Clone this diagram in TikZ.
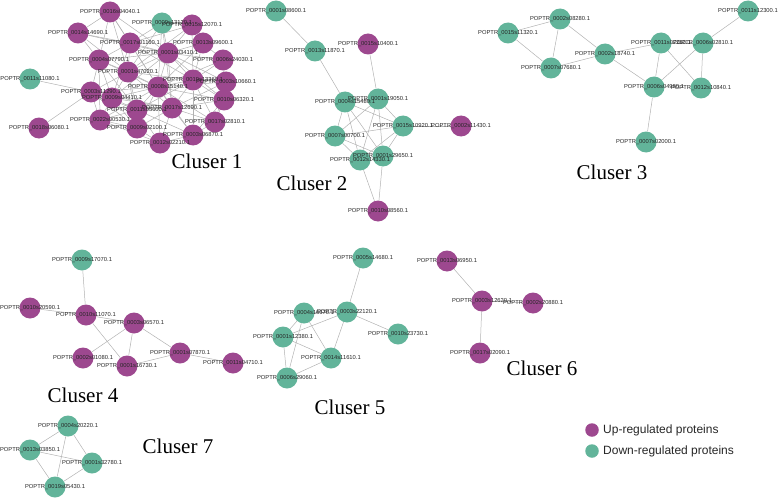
\documentclass[tikz,border=0pt]{standalone}
\usepackage{fontspec}
\setmainfont{Liberation Sans}
\newfontfamily\ttlfont{Liberation Serif}
\definecolor{upc}{RGB}{157,72,143}
\definecolor{downc}{RGB}{98,180,154}
\definecolor{edgec}{RGB}{178,178,178}
\pgfdeclarelayer{edgelayer}
\pgfdeclarelayer{labellayer}
\pgfsetlayers{edgelayer,main,labellayer}
\tikzset{
  up/.style={circle, fill=upc, minimum size=21pt, inner sep=0pt},
  down/.style={circle, fill=downc, minimum size=21pt, inner sep=0pt},
  lab/.style={font=\fontsize{5.8}{6}\selectfont, inner sep=0pt, text=black!85},
  edge/.style={draw=edgec, line width=0.5pt},
  ttl/.style={font=\ttlfont\fontsize{21}{24}\selectfont, inner sep=0pt},
  legdot/.style={circle, minimum size=13.5pt, inner sep=0pt},
  legtxt/.style={anchor=west, font=\fontsize{12}{14}\selectfont, inner sep=0pt, text=black!85}
}
\newcommand\PN[5]{%
  \node[#4] (#1) at (#2,#3) {};
  \begin{pgfonlayer}{labellayer}\node[lab] (#1l) at (#1) {#5};\end{pgfonlayer}}
\begin{document}
\begin{tikzpicture}[x=1pt,y=-1pt]
\useasboundingbox (0,0) rectangle (778,500);
% ---------- Cluster 1
\PN{p1}{110}{12}{up}{POPTR\_0016s04040.1}
\PN{p2}{162}{23}{down}{POPTR\_0009s13120.1}
\PN{p3}{192}{25}{up}{POPTR\_0015s12070.1}
\PN{p4}{78}{33}{up}{POPTR\_0014s14690.1}
\PN{p5}{130}{43}{up}{POPTR\_0017s01160.1}
\PN{p6}{203}{43}{up}{POPTR\_0013s09600.1}
\PN{p7}{168}{53}{up}{POPTR\_0001s03410.1}
\PN{p8}{99}{60}{up}{POPTR\_0004s07790.1}
\PN{p9}{223}{60}{up}{POPTR\_0006s24030.1}
\PN{p10}{128}{72}{up}{POPTR\_0001s47020.1}
\PN{p11}{193}{80}{up}{POPTR\_0019s13360.1}
\PN{p12}{226}{82}{up}{POPTR\_0003s10660.1}
\PN{p13}{30}{79}{down}{POPTR\_0011s11080.1}
\PN{p14}{91}{92}{up}{POPTR\_0003s11290.1}
\PN{p15}{158}{87}{up}{POPTR\_0008s15140.1}
\PN{p16}{112}{98}{up}{POPTR\_0009s04410.1}
\PN{p17}{224}{100}{up}{POPTR\_0010s06320.1}
\PN{p18}{137}{110}{up}{POPTR\_0011s05600.1}
\PN{p19}{172}{108}{up}{POPTR\_0017s12690.1}
\PN{p20}{100}{120}{up}{POPTR\_0022s00530.1}
\PN{p21}{215}{122}{up}{POPTR\_0017s02810.1}
\PN{p22}{137}{128}{up}{POPTR\_0009s02100.1}
\PN{p23}{193}{135}{up}{POPTR\_0003s06870.1}
\PN{p24}{160}{143}{up}{POPTR\_0012s02210.1}
\PN{p25}{39}{128}{up}{POPTR\_0018s06080.1}
% ---------- Cluster 2
\PN{q1}{276}{11}{down}{POPTR\_0001s08600.1}
\PN{q2}{315}{51}{down}{POPTR\_0013s11870.1}
\PN{q3}{368}{44}{up}{POPTR\_0015s10400.1}
\PN{q4}{345}{102}{down}{POPTR\_0004s15480.1}
\PN{q5}{378}{99}{down}{POPTR\_0001s19050.1}
\PN{q6}{403}{126}{down}{POPTR\_0015s10920.1}
\PN{q7}{461}{126}{up}{POPTR\_0002s11430.1}
\PN{q8}{335}{136}{down}{POPTR\_0007s00700.1}
\PN{q9}{360}{160}{down}{POPTR\_0012s14330.1}
\PN{q10}{383}{156}{down}{POPTR\_0001s29650.1}
\PN{q11}{378}{211}{up}{POPTR\_0010s08560.1}
% ---------- Cluster 3
\PN{r1}{560}{19}{down}{POPTR\_0002s08280.1}
\PN{r2}{508}{33}{down}{POPTR\_0015s11320.1}
\PN{r3}{551}{68}{down}{POPTR\_0007s07680.1}
\PN{r4}{605}{54}{down}{POPTR\_0002s18740.1}
\PN{r5}{661}{43}{down}{POPTR\_0011s07260.1}
\PN{r6}{703}{43}{down}{POPTR\_0006s02810.1}
\PN{r7}{748}{11}{down}{POPTR\_0011s12300.1}
\PN{r8}{654}{87}{down}{POPTR\_0006s04980.1}
\PN{r9}{701}{88}{down}{POPTR\_0012s10840.1}
\PN{r10}{646}{142}{down}{POPTR\_0007s02000.1}
% ---------- Cluster 4
\PN{s1}{82}{260}{down}{POPTR\_0009s17070.1}
\PN{s2}{30}{308}{up}{POPTR\_0010s20590.1}
\PN{s3}{86}{315}{up}{POPTR\_0010s11070.1}
\PN{s4}{134}{323}{up}{POPTR\_0003s06570.1}
\PN{s5}{83}{358}{up}{POPTR\_0002s01080.1}
\PN{s6}{127}{366}{up}{POPTR\_0001s16730.1}
\PN{s7}{180}{353}{up}{POPTR\_0001s07870.1}
\PN{s8}{233}{363}{up}{POPTR\_0011s04710.1}
% ---------- Cluster 5
\PN{t1}{363}{258}{down}{POPTR\_0005s14680.1}
\PN{t2}{304}{313}{down}{POPTR\_0004s16670.1}
\PN{t3}{347}{312}{down}{POPTR\_0003s22120.1}
\PN{t4}{398}{334}{down}{POPTR\_0010s23730.1}
\PN{t5}{283}{337}{down}{POPTR\_0001s12380.1}
\PN{t6}{331}{358}{down}{POPTR\_0014s11610.1}
\PN{t7}{287}{378}{down}{POPTR\_0006s29060.1}
% ---------- Cluster 6
\PN{u1}{447}{261}{up}{POPTR\_0013s06950.1}
\PN{u2}{482}{301}{up}{POPTR\_0003s12620.1}
\PN{u3}{533}{303}{up}{POPTR\_0002s20880.1}
\PN{u4}{480}{353}{up}{POPTR\_0017s02090.1}
% ---------- Cluster 7
\PN{v1}{68}{426}{down}{POPTR\_0004s20220.1}
\PN{v2}{30}{450}{down}{POPTR\_0013s03850.1}
\PN{v3}{92}{463}{down}{POPTR\_0001s32780.1}
\PN{v4}{55}{487}{down}{POPTR\_0019s05430.1}
% ---------- Edges
\begin{pgfonlayer}{edgelayer}
\foreach \a/\b in {p1/p4,p1/p5,p1/p7,p1/p8,p1/p10,p1/p15,
  p2/p5,p2/p7,p2/p10,p2/p15,p2/p19,
  p3/p7,p3/p5,p3/p10,p3/p11,
  p4/p7,p4/p8,p4/p10,p4/p5,
  p5/p7,p5/p8,p5/p10,p5/p15,p5/p11,p5/p16,
  p6/p7,p6/p11,p6/p15,p6/p9,
  p7/p8,p7/p10,p7/p11,p7/p15,p7/p12,p7/p9,p7/p19,p7/p16,p7/p17,
  p8/p10,p8/p14,p8/p15,p8/p16,p8/p18,p8/p20,
  p9/p11,p9/p15,p9/p12,p9/p17,
  p10/p14,p10/p15,p10/p16,p10/p18,p10/p19,p10/p11,p10/p22,
  p11/p12,p11/p15,p11/p17,p11/p19,p11/p21,p11/p18,p11/p23,
  p12/p15,p12/p17,p12/p19,p12/p21,
  p13/p14,
  p14/p15,p14/p16,p14/p18,p14/p20,p14/p22,p14/p19,p14/p25,
  p15/p16,p15/p17,p15/p18,p15/p19,p15/p21,p15/p22,p15/p23,p15/p24,p15/p20,
  p16/p18,p16/p19,p16/p20,p16/p22,
  p17/p19,p17/p21,p17/p23,
  p18/p19,p18/p20,p18/p22,p18/p24,p18/p23,
  p19/p21,p19/p22,p19/p23,p19/p24,
  p20/p22,p20/p24,p21/p23,p22/p24,p23/p24,
  q1/q2,q2/q4,q3/q5,
  q4/q5,q4/q6,q4/q8,q4/q9,q4/q10,
  q5/q6,q5/q8,q5/q9,q5/q10,
  q6/q8,q6/q9,q6/q10,q6/q7,
  q8/q9,q8/q10,q9/q10,
  q9/q11,q10/q11,
  r2/r1,r2/r3,r1/r3,r1/r4,r3/r4,r4/r5,r4/r8,
  r5/r6,r5/r8,r5/r9,r6/r8,r6/r9,r6/r7,r8/r10,
  s1/s3,s2/s3,s3/s4,s3/s6,s4/s5,s4/s6,s4/s7,s6/s7,s7/s8,
  t1/t3,t3/t4,t2/t3,t2/t5,t2/t6,t2/t7,t3/t5,t3/t6,t5/t6,t5/t7,t7/t6,
  u1/u2,u2/u3,u2/u4,
  v1/v2,v1/v3,v1/v4,v2/v3,v2/v4,v3/v4}
  \draw[edge] (\a) -- (\b);
\end{pgfonlayer}
% ---------- Titles
\node[ttl] (c1) at (207,161) {Cluser 1};
\node[ttl] (c2) at (312,183) {Cluser 2};
\node[ttl] (c3) at (612,172) {Cluser 3};
\node[ttl] (c4) at (83,395) {Cluser 4};
\node[ttl] (c5) at (350,407) {Cluser 5};
\node[ttl] (c6) at (542,368) {Cluser 6};
\node[ttl] (c7) at (178,446) {Cluser 7};
% ---------- Legend
\node[legdot, fill=upc] (lu) at (592,430) {};
\node[legdot, fill=downc] (ld) at (592,451) {};
\node[legtxt] (lut) at (603,430) {Up-regulated proteins};
\node[legtxt] (ldt) at (603,451) {Down-regulated proteins};
\end{tikzpicture}
\end{document}
